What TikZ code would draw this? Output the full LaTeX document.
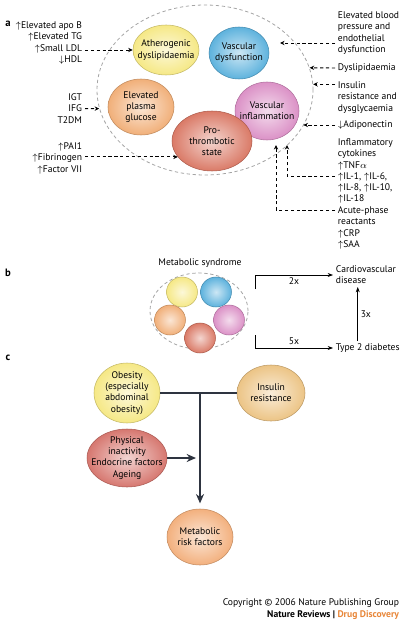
\documentclass[tikz,border=0pt]{standalone}
\usepackage{fontspec}
\setmainfont{PT Sans}
\usetikzlibrary{shapes.geometric,arrows.meta}

\definecolor{athcol}{HTML}{F5E77F}
\definecolor{vdcol}{HTML}{55AEDB}
\definecolor{glucol}{HTML}{F0AB72}
\definecolor{procol}{HTML}{D8735F}
\definecolor{vicol}{HTML}{D98BC3}
\definecolor{ircol}{HTML}{EBC17F}
\definecolor{piacol}{HTML}{D47068}
\definecolor{mrfcol}{HTML}{F2AC77}
\definecolor{darkline}{HTML}{2E3440}
\definecolor{grayline}{HTML}{A5A5A5}
\definecolor{ddorange}{HTML}{E8873A}

\newcommand{\txt}{\fontsize{7.2}{8.4}\selectfont}
\newcommand{\up}{$\uparrow$}
\newcommand{\dn}{$\downarrow$}

\tikzset{
  blob/.style={ellipse, draw=#1!80!black, line width=0.4pt,
    inner color=#1!30!white, outer color=#1!95!white, inner sep=0pt},
  radii/.style 2 args={minimum width=1.5pt*#1, minimum height=1.5pt*#2},
  txtin/.style={font=\txt, align=center, inner sep=0pt},
  lbl/.style={font=\txt, inner sep=2pt},
  panel/.style={font=\fontsize{8}{9}\selectfont\bfseries},
  ringline/.style={draw=grayline, dash pattern=on 2.5pt off 2pt, line width=0.6pt},
  dasharrow/.style={dash pattern=on 2.4pt off 2pt, line width=0.7pt,
    -{Stealth[length=3.4pt,width=3.2pt]}},
  thinarrow/.style={line width=0.5pt, -{Stealth[length=4pt,width=3pt]}},
  bigarrow/.style={darkline, line width=1.6pt, -{Stealth[length=7pt,width=6pt]}},
}

% name, colour, centre, rx, ry, text
\newcommand{\blob}[6]{%
  \node[blob=#2, radii={#4}{#5}] (#1) at (#3) {};
  \node[txtin] (#1t) at (#1) {#6};
}

\begin{document}
\begin{tikzpicture}[x=0.75pt, y=-0.75pt]
\useasboundingbox (0,0) rectangle (405,624);

% a
\node[panel] (la) at (8,24) {a};
\node[ellipse, ringline, radii={108}{85}] (ms) at (205,90) {};
\blob{ath}{athcol}{166,50}{33}{25}{Atherogenic\\dyslipidaemia}
\blob{vdys}{vdcol}{239,53}{30}{26}{Vascular\\dysfunction}
\blob{glu}{glucol}{141,107}{33}{28}{Elevated\\plasma\\glucose}
\blob{vinf}{vicol}{267,111}{32}{29}{Vascular\\inflammation}
\blob{pro}{procol}{212,141}{40}{30}{Pro-\\thrombotic\\state}

\node[lbl, anchor=north east, align=right] (lip) at (85,19)
  {\up Elevated apo B\\\up Elevated TG\\\up Small LDL\\\dn HDL};
\node[lbl, anchor=north east, align=right] (glc) at (85,91) {IGT\\IFG\\T2DM};
\node[lbl, anchor=north east, align=right] (coag) at (85,140)
  {\up PAI1\\\up Fibrinogen\\\up Factor VII};

\node[lbl, anchor=north west, align=left] (bp) at (335,9)
  {Elevated blood\\pressure and\\endothelial\\dysfunction};
\node[lbl, anchor=west] (dys) at (335,68) {Dyslipidaemia};
\node[lbl, anchor=north west, align=left] (ins) at (335,79)
  {Insulin\\resistance and\\dysglycaemia};
\node[lbl, anchor=west] (adi) at (335,125) {\dn Adiponectin};
\node[lbl, anchor=north west, align=left] (cyt) at (335,136)
  {Inflammatory\\cytokines\\\up TNF$\alpha$\\\up IL-1, \up IL-6,\\\up IL-8, \up IL-10,\\\up IL-18};
\node[lbl, anchor=north west, align=left] (acu) at (335,204)
  {Acute-phase\\reactants\\\up CRP\\\up SAA};

\coordinate (bpin) at (280,43);
\coordinate (cytin) at (287,145);
\coordinate (acuin) at (276,145);

\draw[dasharrow] (lip.east |- ath.west) -- (ath.west);
\draw[dasharrow] (glc.east) -- (ms.190);
\draw[dasharrow] (pro.205 -| coag.east) -- (pro.205);
\draw[dasharrow] (bp.west |- bpin) -- (bpin);
\draw[dasharrow] (dys.west) -- (ms.12);
\draw[dasharrow] (ms.3 -| ins.west) -- (ms.3);
\draw[dasharrow] (adi.west) -- (adi.west -| ms.340);
\draw[dasharrow] ([yshift=-30pt]cyt.north west) -| (cytin);
\draw[dasharrow] ([yshift=-4.5pt]acu.north west) -| (acuin);

% b
\node[panel] (lb) at (8,273) {b};
\node[lbl] (mstitle) at (200,263) {Metabolic syndrome};
\node[ellipse, ringline, radii={49}{38}] (ms2) at (199,311) {};
\node[blob=athcol, radii={15.5}{15}] (s1) at (182,292) {};
\node[blob=vdcol, radii={15.5}{15}] (s2) at (216,292) {};
\node[blob=glucol, radii={15.5}{15}] (s3) at (170,320) {};
\node[blob=procol, radii={15.5}{15}] (s4) at (200,338) {};
\node[blob=vicol, radii={15.5}{15}] (s5) at (229,320) {};

\node[lbl, anchor=north west, align=left] (cvd) at (333,263) {Cardiovascular\\disease};
\node[lbl, anchor=west] (t2d) at (333,348) {Type 2 diabetes};
\coordinate (btop) at (255,289);
\coordinate (bbot) at (255,335);

\draw[thinarrow] (btop) |- node[pos=0.75, below, lbl] (two) {2x} (cvd.west);
\draw[thinarrow] (bbot) |- node[pos=0.75, above, lbl] (five) {5x} (t2d.west);
\draw[thinarrow] ([xshift=-7.5pt]t2d.north) -- node[right, lbl] (three) {3x}
  ([xshift=-7.5pt]t2d.north |- cvd.south);

% c
\node[panel] (lc) at (8,358) {c};
\blob{obe}{athcol}{127,393}{33}{30}{Obesity\\(especially\\abdominal\\obesity)}
\blob{ir}{ircol}{271,393}{34}{28}{Insulin\\resistance}
\blob{pia}{piacol}{127,458}{40}{29}{Physical\\inactivity\\Endocrine factors\\Ageing}
\blob{mrf}{mrfcol}{200,537}{33}{28}{Metabolic\\risk factors}
\coordinate (jn) at (200,393);

\draw[darkline, line width=1.6pt] (obe.east) -- (ir.west);
\draw[bigarrow, shorten >=4pt] (jn) -- (mrf.north);
\draw[bigarrow, shorten >=3pt] (pia.east) -- (pia.east -| jn);

\node[lbl, anchor=east] (copy) at (402,603) {Copyright \textcopyright{} 2006 Nature Publishing Group};
\node[lbl, anchor=east, font=\txt\bfseries] (journal) at (402,615)
  {Nature Reviews | \textcolor{ddorange}{Drug Discovery}};
\end{tikzpicture}
\end{document}
